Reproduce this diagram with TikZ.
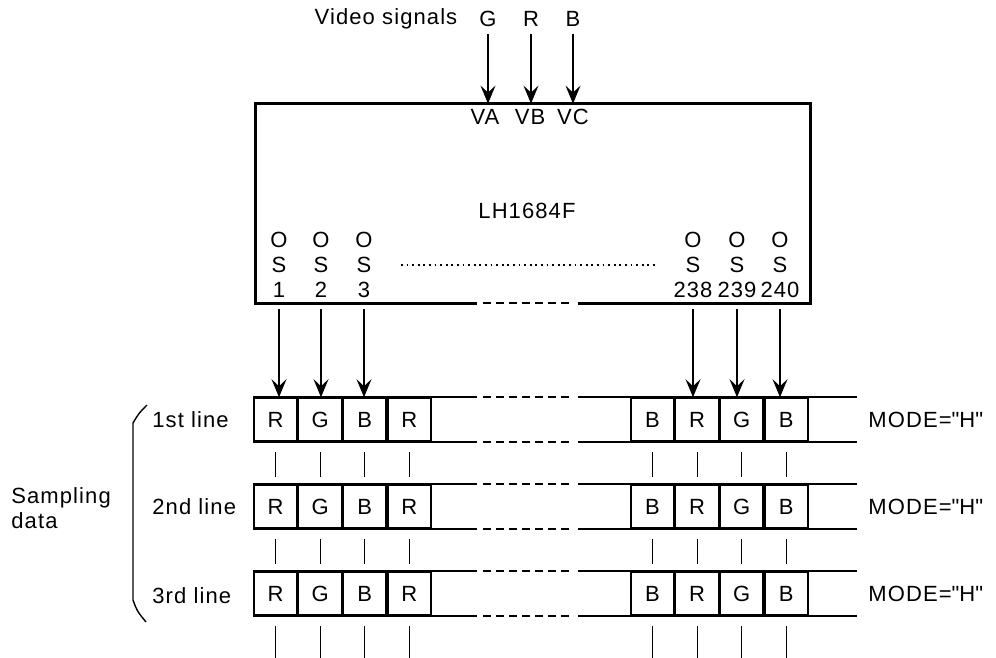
\documentclass[tikz,border=0pt]{standalone}
\usepackage{fontspec}
\setmainfont{Liberation Sans}[LetterSpace=5]
\usepackage{tikz}
\usetikzlibrary{arrows.meta, positioning}
\tikzset{
    chipline/.style={line width=1.2pt},
    pinlabel/.style={align=center, inner sep=1pt},
    cellbox/.style={rectangle, draw, line width=0.8pt, minimum width=21.5pt, minimum height=21.5pt, inner sep=0pt},
    rail/.style={line width=1pt},
    raildash/.style={line width=1pt, dash pattern=on 4pt off 2.5pt},
    dotrow/.style={line width=1.3pt, dash pattern=on 0.9pt off 1.9pt, shorten <=13pt, shorten >=7pt},
    sigarrow/.style={-{Stealth[length=9pt, width=7.5pt, inset=3.5pt]}, line width=0.6pt},
    tapline/.style={line width=0.5pt, shorten <=5pt, shorten >=3.5pt},
    sidelabel/.style={anchor=west, inner sep=0pt},
    bracket/.style={line width=0.7pt}
}

\begin{document}
\begin{tikzpicture}[x=0.5pt, y=-0.5pt, node distance=0pt, font=\fontsize{11}{12.5}\selectfont]
\useasboundingbox[fill=white] (0,0) rectangle (996,658);

% input signals
\node (vidlbl) at (386,19) {Video signals};
\node (sigG) at (488,19) {G};
\node (sigR) at (531,19) {R};
\node (sigB) at (573,19) {B};

% the chip
\node[minimum width=277pt, minimum height=99.5pt, inner sep=0pt] (chip) at (533,203.5) {};
\coordinate (gapL) at (477,0);
\coordinate (dashL) at (483,0);
\coordinate (dashR) at (570,0);
\coordinate (gapR) at (578,0);
\coordinate (railE) at (857,0);
\coordinate (foot) at (0,665);
\draw[chipline] (chip.south west -| gapL) -- (chip.south west) -- (chip.north west) -- (chip.north east) -- (chip.south east) -- (chip.south east -| gapR);
\draw[raildash] (chip.south west -| dashL) -- (chip.south west -| dashR);

\node (va) at (485,117) {VA};
\node (vb) at (530,117) {VB};
\node (vc) at (573,117) {VC};
\node (chipname) at (527,211) {LH1684F};

\draw[sigarrow] (sigG) -- (sigG |- chip.north);
\draw[sigarrow] (sigR) -- (sigR |- chip.north);
\draw[sigarrow] (sigB) -- (sigB |- chip.north);

% output pins
\node[pinlabel] (os1) at (279,265) {O\\S\\1};
\node[pinlabel] (os2) at (321,265) {O\\S\\2};
\node[pinlabel] (os3) at (364,265) {O\\S\\3};
\node[pinlabel] (os238) at (693,265) {O\\S\\238};
\node[pinlabel] (os239) at (737,265) {O\\S\\239};
\node[pinlabel] (os240) at (780,265) {O\\S\\240};
\draw[dotrow] (os3.east) -- (os238.west);

% sampling rows
\node[cellbox] (l11) at (275.5,419.5) {R};
\node[cellbox, right=of l11] (l12) {G};
\node[cellbox, right=of l12] (l13) {B};
\node[cellbox, right=of l13] (l14) {R};
\node[cellbox] (r11) at (652.5,419.5) {B};
\node[cellbox, right=of r11] (r12) {R};
\node[cellbox, right=of r12] (r13) {G};
\node[cellbox, right=of r13] (r14) {B};

\node[cellbox] (l21) at (275.5,506.5) {R};
\node[cellbox, right=of l21] (l22) {G};
\node[cellbox, right=of l22] (l23) {B};
\node[cellbox, right=of l23] (l24) {R};
\node[cellbox] (r21) at (652.5,506.5) {B};
\node[cellbox, right=of r21] (r22) {R};
\node[cellbox, right=of r22] (r23) {G};
\node[cellbox, right=of r23] (r24) {B};

\node[cellbox] (l31) at (275.5,593.5) {R};
\node[cellbox, right=of l31] (l32) {G};
\node[cellbox, right=of l32] (l33) {B};
\node[cellbox, right=of l33] (l34) {R};
\node[cellbox] (r31) at (652.5,593.5) {B};
\node[cellbox, right=of r31] (r32) {R};
\node[cellbox, right=of r32] (r33) {G};
\node[cellbox, right=of r33] (r34) {B};

% rails
\draw[rail] (l11.north west) -- (l11.north west -| gapL) (l11.north west -| gapR) -- (l11.north west -| railE);
\draw[raildash] (l11.north west -| dashL) -- (l11.north west -| dashR);
\draw[rail] (l11.south west) -- (l11.south west -| gapL) (l11.south west -| gapR) -- (l11.south west -| railE);
\draw[raildash] (l11.south west -| dashL) -- (l11.south west -| dashR);
\draw[rail] (l21.north west) -- (l21.north west -| gapL) (l21.north west -| gapR) -- (l21.north west -| railE);
\draw[raildash] (l21.north west -| dashL) -- (l21.north west -| dashR);
\draw[rail] (l21.south west) -- (l21.south west -| gapL) (l21.south west -| gapR) -- (l21.south west -| railE);
\draw[raildash] (l21.south west -| dashL) -- (l21.south west -| dashR);
\draw[rail] (l31.north west) -- (l31.north west -| gapL) (l31.north west -| gapR) -- (l31.north west -| railE);
\draw[raildash] (l31.north west -| dashL) -- (l31.north west -| dashR);
\draw[rail] (l31.south west) -- (l31.south west -| gapL) (l31.south west -| gapR) -- (l31.south west -| railE);
\draw[raildash] (l31.south west -| dashL) -- (l31.south west -| dashR);

% chip outputs into the 1st line
\draw[sigarrow, shorten <=3pt] (os1 |- chip.south) -- (os1 |- l11.north);
\draw[sigarrow, shorten <=3pt] (os2 |- chip.south) -- (os2 |- l12.north);
\draw[sigarrow, shorten <=3pt] (os3 |- chip.south) -- (os3 |- l13.north);
\draw[sigarrow, shorten <=3pt] (os238 |- chip.south) -- (os238 |- r12.north);
\draw[sigarrow, shorten <=3pt] (os239 |- chip.south) -- (os239 |- r13.north);
\draw[sigarrow, shorten <=3pt] (os240 |- chip.south) -- (os240 |- r14.north);

% taps between lines
\draw[tapline] (l11) -- (l21);
\draw[tapline] (l12) -- (l22);
\draw[tapline] (l13) -- (l23);
\draw[tapline] (l14) -- (l24);
\draw[tapline] (r11) -- (r21);
\draw[tapline] (r12) -- (r22);
\draw[tapline] (r13) -- (r23);
\draw[tapline] (r14) -- (r24);
\draw[tapline] (l21) -- (l31);
\draw[tapline] (l22) -- (l32);
\draw[tapline] (l23) -- (l33);
\draw[tapline] (l24) -- (l34);
\draw[tapline] (r21) -- (r31);
\draw[tapline] (r22) -- (r32);
\draw[tapline] (r23) -- (r33);
\draw[tapline] (r24) -- (r34);
\draw[tapline] (l31) -- (l31 |- foot);
\draw[tapline] (l32) -- (l32 |- foot);
\draw[tapline] (l33) -- (l33 |- foot);
\draw[tapline] (l34) -- (l34 |- foot);
\draw[tapline] (r31) -- (r31 |- foot);
\draw[tapline] (r32) -- (r32 |- foot);
\draw[tapline] (r33) -- (r33 |- foot);
\draw[tapline] (r34) -- (r34 |- foot);

% labels
\node[sidelabel] (lbl1) at (152,420) {1st line};
\node[sidelabel] (lbl2) at (152,507) {2nd line};
\node[sidelabel] (lbl3) at (152,596) {3rd line};
\node[sidelabel] (mode1) at (868,420) {MODE=\textquotedbl H\textquotedbl};
\node[sidelabel] (mode2) at (868,507) {MODE=\textquotedbl H\textquotedbl};
\node[sidelabel] (mode3) at (868,594) {MODE=\textquotedbl H\textquotedbl};
\node[sidelabel, align=left] (smpl) at (11,508) {Sampling\\data};
\draw[bracket] (147,405) .. controls (139,413) .. (133,423) -- (133,600) .. controls (137,611) .. (146,622);

\end{tikzpicture}
\end{document}
